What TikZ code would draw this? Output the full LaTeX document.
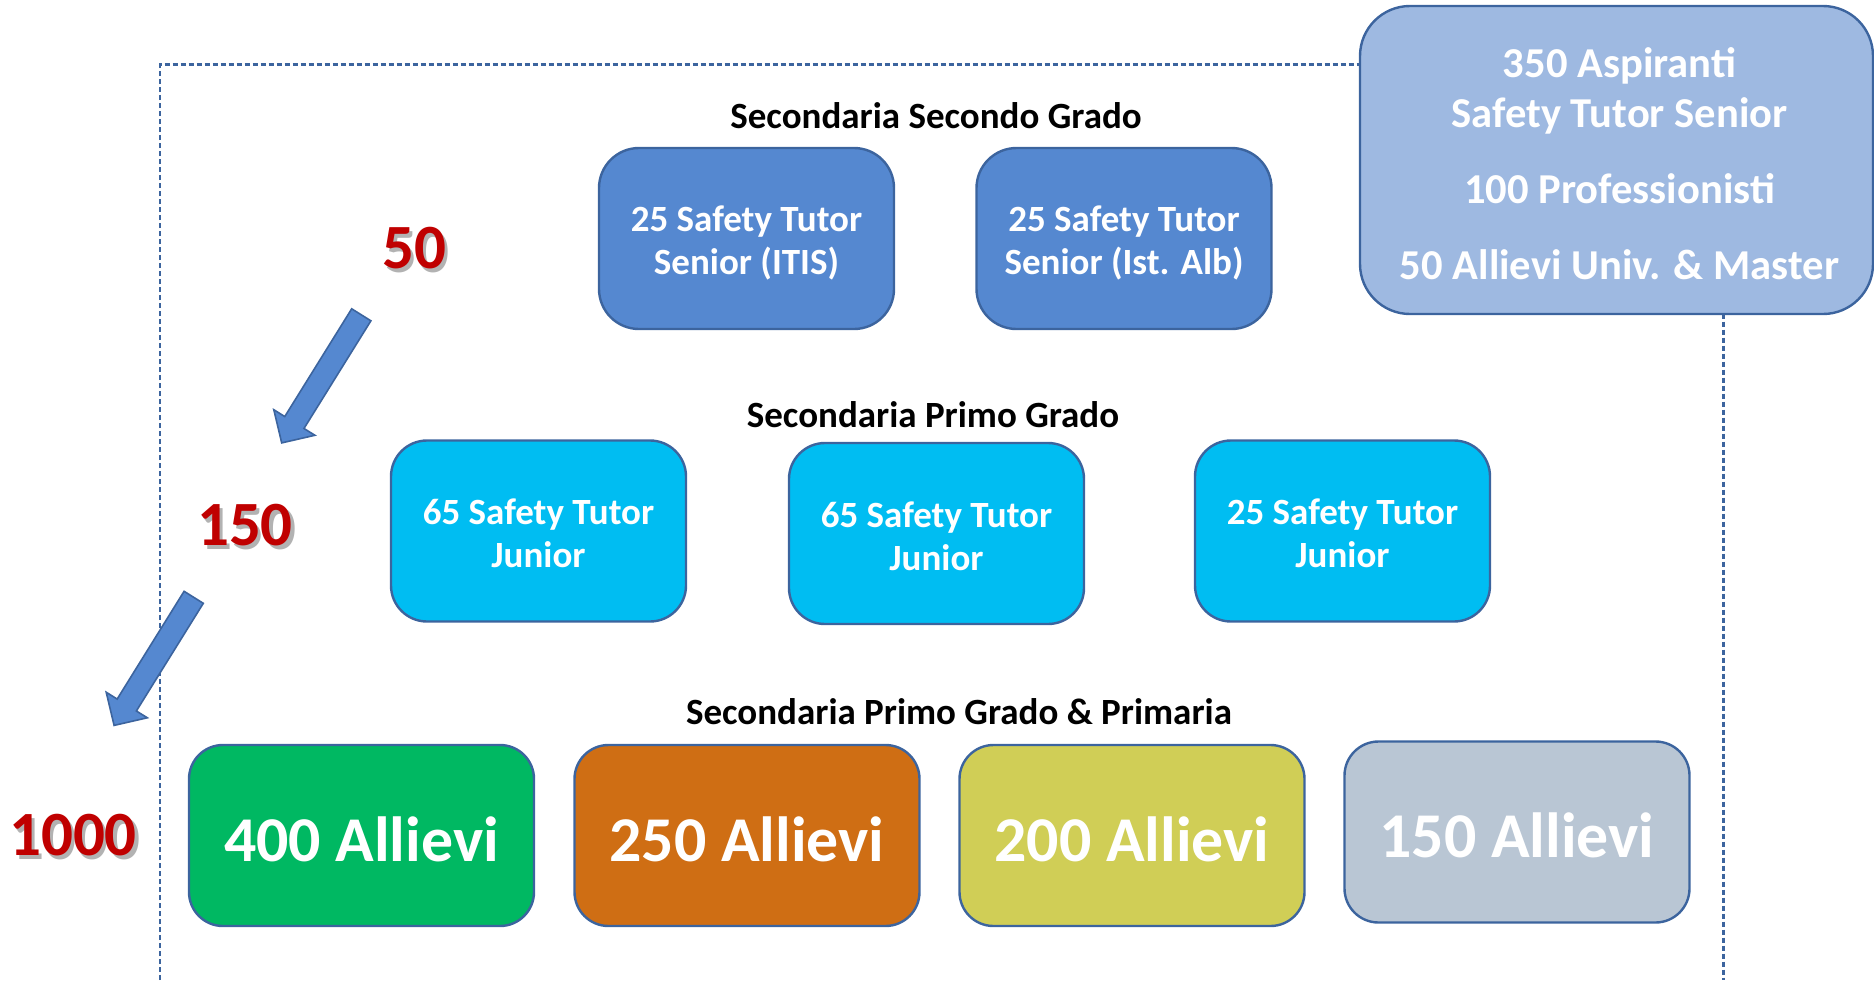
\documentclass[tikz,border=0pt]{standalone}
\usepackage{fontspec}
\setmainfont{Carlito}
\definecolor{bordc}{RGB}{60,100,158}
\definecolor{senc}{RGB}{85,136,208}
\definecolor{bigc}{RGB}{158,185,225}
\definecolor{junc}{RGB}{0,189,242}
\definecolor{grnc}{RGB}{0,184,98}
\definecolor{orgc}{RGB}{207,110,20}
\definecolor{yelc}{RGB}{208,206,86}
\definecolor{gryc}{RGB}{185,198,212}
\definecolor{numc}{RGB}{192,0,0}
\newcommand{\shadownum}[1]{\makebox[0pt][l]{\hspace{1.6pt}\raisebox{-1.6pt}{\textcolor{black!30}{#1}}}#1}
\newcommand{\dn}[1]{\rule{0pt}{\dimexpr\fontcharht\font`\l+#1\relax}}
\begin{document}
\begin{tikzpicture}[x=0.5pt,y=-0.5pt,
  box/.style={draw=bordc, line width=1.2pt, rounded corners=20pt,
    minimum width=147.5pt, minimum height=90.5pt, text=white, align=center,
    inner sep=0pt, font=\bfseries\fontsize{18.5}{21.5}\selectfont},
  bigbox/.style={box, fill=bigc, minimum width=256.5pt, minimum height=154pt,
    rounded corners=25pt, font=\bfseries\fontsize{21.3}{25}\selectfont},
  allbox/.style={box, minimum width=172.5pt, minimum height=90.5pt,
    rounded corners=17pt, font=\bfseries\fontsize{31.9}{36}\selectfont},
  lbl/.style={font=\bfseries\fontsize{18.5}{21.5}\selectfont, inner sep=0pt},
  num/.style={font=\bfseries\fontsize{31.5}{36}\selectfont, text=numc, inner sep=0pt},
  frame/.style={draw=bordc, line width=1.2pt, dash pattern=on 2.6pt off 1.4pt},
  arr/.style={fill=senc, draw=bordc, line width=0.8pt, line join=miter}
]
\useasboundingbox (0,0) rectangle (1874,980);

% dashed frame
\draw[frame] (160,980) -- (160,64.5) -- (1723.5,64.5) -- (1723.5,980);

% top level
\node[bigbox] (big) at (1616.5,160) {\dn{4pt}\hspace{3pt}350 Aspiranti\\\hspace{3pt}Safety Tutor Senior\\[13pt]\hspace{3pt}100 Professionisti\\[13pt]\hspace{3pt}50 Allievi Univ. \& Master};
\node[lbl] (l1) at (936,116) {Secondaria Secondo Grado};
\node[box, fill=senc] (s1) at (746.5,238.5) {\dn{4.2pt}25 Safety Tutor\\Senior (ITIS)};
\node[box, fill=senc] (s2) at (1124,238.5) {\dn{4.2pt}25 Safety Tutor\\Senior (Ist. Alb)};

% middle level
\node[lbl] (l2) at (933,415) {Secondaria Primo Grado};
\node[box, fill=junc, rounded corners=18pt] (j1) at (538.5,531) {\dn{2.4pt}65 Safety Tutor\\Junior};
\node[box, fill=junc, rounded corners=18pt] (j2) at (936.5,533.5) {\dn{2.4pt}65 Safety Tutor\\Junior};
\node[box, fill=junc, rounded corners=18pt] (j3) at (1342.5,531) {\dn{2.4pt}25 Safety Tutor\\Junior};

% bottom level
\node[lbl] (l3) at (959,712) {Secondaria Primo Grado \& Primaria};
\node[allbox, fill=grnc] (a1) at (361.5,835.5) {\dn{3.6pt}400 Allievi};
\node[allbox, fill=orgc] (a2) at (747,835.5) {\dn{3.6pt}250 Allievi};
\node[allbox, fill=yelc] (a3) at (1132,835.5) {\dn{3.6pt}200 Allievi};
\node[allbox, fill=gryc] (a4) at (1517,832) {\dn{3.6pt}150 Allievi};

% red numbers (with soft shadow)
\node[num] (n1) at (414,250) {\shadownum{50}};
\node[num] (n2) at (245,527) {\shadownum{150}};
\node[num] (n3) at (73,837) {\shadownum{1000}};

% block arrows
\foreach \dx/\dy in {0/0,-167.6/282.5}{
  \filldraw[arr, shift={(\dx,\dy)}] (370.9,320.8) -- (351.7,308.8) -- (284.77,416.54)
    -- (273.81,409.73) -- (281.7,442.9) -- (314.93,435.28) -- (303.97,428.48) -- cycle;
}
\end{tikzpicture}
\end{document}
